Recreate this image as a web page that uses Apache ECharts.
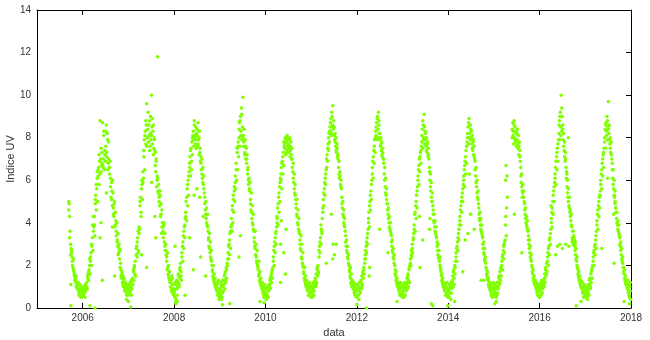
<!DOCTYPE html>
<html>
<head>
<meta charset="utf-8">
<script src="https://cdn.jsdelivr.net/npm/echarts@6/dist/echarts.min.js"></script>
<style>html,body{margin:0;padding:0;background:#fff}#c{width:650px;height:340px}</style>
</head>
<body>
<div id="c"></div>
<script>
// ---- tick labels ----
const xTicks = [2006, 2008, 2010, 2012, 2014, 2016, 2018];
const yMin = 0, yMax = 14, yStep = 2;

// ---- UV index, set A: 8 readings per month (Jan..Dec); 2005 starts in September ----
const uv2005 = [
 null,null,5.0,4.9,4.3,3.6,3.0,2.8,
 2.7,2.4,2.2,1.9,2.3,1.7,1.6,1.3,
 1.4,1.2,1.5,1.0,1.1,0.9,1.2,0.8,
 0.6,0.9,0.7,1.0,0.5,0.8,0.9,0.6];
const uv2006 = [
 0.8,0.6,1.0,0.7,0.9,1.1,0.8,1.0,
 1.2,0.9,1.4,1.6,1.3,1.8,2.0,1.6,
 2.2,2.6,2.0,2.9,3.3,2.7,3.6,3.8,
 4.3,3.4,4.9,5.3,4.6,5.6,6.1,5.0,
 6.2,6.6,5.8,6.9,8.8,7.0,6.4,6.7,
 6.8,8.7,6.6,7.0,8.3,6.5,7.2,6.9,
 7.6,8.6,7.1,8.2,7.9,6.8,7.0,6.6,
 6.3,6.9,6.1,5.2,5.9,5.5,4.8,5.4,
 4.7,4.3,5.0,3.8,4.5,4.1,3.6,4.0,
 3.2,2.9,3.5,2.6,3.0,2.3,2.7,2.1,
 1.8,1.4,1.6,1.2,1.5,1.0,1.3,1.1,
 0.9,1.2,0.8,1.0,0.7,1.1,0.9,0.6];
const uv2007 = [
 0.9,1.1,0.7,1.2,0.8,1.0,1.3,0.9,
 1.4,1.1,1.7,1.3,1.9,1.6,2.2,1.5,
 2.5,2.9,2.4,3.3,3.6,2.7,3.5,3.7,
 4.8,5.2,4.5,5.6,6.0,5.1,5.9,6.1,
 7.4,7.9,6.5,8.3,7.7,8.6,9.6,8.0,
 8.4,9.2,7.8,8.1,8.8,7.6,8.2,7.9,
 10.0,8.5,7.7,8.3,8.6,7.5,7.9,7.4,
 7.3,6.4,6.9,5.7,6.2,6.1,5.4,5.8,
 5.2,4.8,5.5,4.3,4.9,3.5,4.6,4.0,
 3.8,3.3,4.0,3.1,3.5,2.7,3.0,2.5,
 2.2,1.8,2.6,1.6,2.0,1.4,1.7,1.2,
 1.0,1.3,0.8,1.5,0.7,1.1,0.9,0.6];
const uv2008 = [
 0.8,0.5,1.1,0.3,0.9,1.3,0.6,1.0,
 1.2,1.5,1.0,1.8,1.4,2.1,1.7,1.3,
 2.4,2.9,2.2,3.4,2.8,3.8,3.3,4.2,
 4.5,5.0,4.1,5.6,4.8,6.0,5.3,6.4,
 6.6,7.1,6.2,7.5,6.9,7.8,7.2,8.1,
 8.3,7.6,8.8,8.0,7.7,8.5,7.9,8.2,
 8.1,7.6,8.7,7.9,7.2,8.3,7.5,6.9,
 7.1,6.5,7.0,6.1,6.6,5.8,6.2,5.4,
 5.2,4.6,5.0,4.2,4.7,3.9,4.4,3.6,
 3.3,2.9,3.5,2.6,3.1,2.3,2.7,2.0,
 1.8,1.5,2.0,1.3,1.6,1.1,1.4,1.2,
 1.0,0.8,1.2,0.6,0.9,1.3,0.7,0.5];
const uv2009 = [
 0.9,0.6,1.2,0.4,1.0,0.7,1.3,0.8,
 1.1,1.5,0.9,1.7,1.3,1.9,1.4,2.1,
 2.0,2.6,2.3,3.0,2.5,3.5,2.8,3.8,
 4.2,3.6,4.8,4.0,5.3,4.5,5.7,5.0,
 6.2,5.6,6.8,6.0,7.3,6.5,7.8,7.1,
 8.0,8.7,7.6,9.0,8.3,9.4,7.9,8.5,
 9.9,8.1,7.6,8.4,7.3,7.9,7.0,7.5,
 6.8,7.2,6.3,6.6,5.8,6.1,5.5,5.9,
 5.1,4.6,5.4,4.2,4.8,3.9,4.4,3.6,
 3.3,2.9,3.6,2.5,3.0,2.2,2.7,2.0,
 1.9,1.5,2.2,1.3,1.7,1.1,1.4,1.0,
 0.9,1.2,0.7,1.0,0.5,0.8,1.1,0.6];
const uv2010 = [
 0.7,0.4,0.9,0.6,1.0,0.5,0.8,1.1,
 1.0,1.3,0.9,1.5,1.2,1.7,1.4,1.9,
 2.2,2.7,2.0,3.1,2.6,3.5,3.0,3.8,
 4.2,4.7,3.9,5.2,4.5,5.7,5.0,6.1,
 6.0,6.6,5.6,6.9,6.3,7.3,6.7,7.6,
 7.5,8.0,7.2,7.8,7.4,8.1,7.6,7.9,
 7.7,7.3,8.0,7.1,7.6,7.8,7.2,7.5,
 7.0,6.4,6.8,5.9,6.3,5.4,5.8,5.1,
 4.9,4.4,5.1,4.0,4.6,3.7,4.2,3.5,
 3.2,2.8,3.4,2.4,3.0,2.1,2.6,1.9,
 1.7,1.4,1.9,1.2,1.5,1.0,1.3,0.9,
 0.8,1.1,0.6,0.9,1.2,0.7,1.0,0.5];
const uv2011 = [
 0.7,1.0,0.5,0.9,1.2,0.6,0.8,1.1,
 1.3,1.0,1.6,1.2,1.8,1.5,2.0,1.7,
 2.4,2.9,2.6,3.3,3.0,3.7,3.5,4.2,
 4.5,5.1,4.8,5.6,5.3,6.1,5.8,6.5,
 6.6,7.2,6.9,7.7,7.4,8.2,7.8,8.5,
 8.3,8.9,8.1,9.2,8.6,9.5,8.4,8.8,
 8.5,7.9,8.2,7.6,8.0,7.3,7.7,7.1,
 7.2,6.6,6.9,6.1,6.4,5.8,6.0,5.6,
 5.2,4.7,5.0,4.3,4.6,3.9,4.2,3.6,
 3.4,2.9,3.2,2.6,2.9,2.3,2.5,2.0,
 1.8,1.5,1.9,1.2,1.6,1.0,1.3,1.1,
 0.9,1.2,0.7,1.0,0.6,1.1,0.8,0.5];
const uv2012 = [
 0.8,1.1,0.6,1.0,0.4,1.2,0.9,0.7,
 1.2,0.9,1.5,1.1,1.7,1.4,1.9,1.6,
 2.1,2.5,2.3,2.9,2.6,3.3,3.0,3.7,
 4.0,4.5,3.8,5.0,4.6,5.5,5.1,6.0,
 6.3,6.9,6.1,7.4,6.8,7.9,7.3,8.3,
 8.1,8.7,7.9,9.0,8.4,9.2,8.6,8.2,
 8.2,7.6,8.0,7.4,7.8,7.1,7.5,7.0,
 7.0,6.3,6.6,5.7,6.1,5.3,5.6,4.9,
 4.9,4.4,4.7,4.0,4.3,3.7,4.0,3.5,
 3.4,2.9,3.2,2.6,2.8,2.3,2.5,2.0,
 1.8,1.5,1.7,1.2,1.4,1.0,1.2,0.9,
 0.8,1.1,0.6,0.9,1.2,0.7,1.0,0.5];
const uv2013 = [
 0.7,1.0,0.5,0.9,1.2,0.6,1.0,0.8,
 1.1,1.4,0.9,1.6,1.3,1.8,1.2,2.0,
 2.3,2.0,2.7,2.4,3.0,2.6,3.3,3.5,
 3.9,4.4,3.6,4.8,4.2,5.3,4.7,5.7,
 6.0,6.5,5.8,7.0,6.4,7.3,6.8,7.6,
 7.8,8.4,7.5,8.6,8.0,9.1,7.7,8.3,
 8.2,7.6,8.0,7.3,7.8,7.1,7.5,7.0,
 6.6,6.0,6.3,5.5,5.9,5.0,5.4,4.8,
 4.6,4.1,4.4,3.8,4.1,3.5,3.8,3.3,
 3.1,2.7,3.0,2.4,2.7,2.2,2.4,1.9,
 1.8,1.5,1.6,1.2,1.4,1.0,1.2,0.9,
 0.8,1.1,0.6,1.0,0.7,1.2,0.9,0.5];
const uv2014 = [
 0.8,0.5,1.1,0.7,1.0,0.4,1.2,0.9,
 1.2,1.5,1.0,1.8,1.4,2.0,1.6,2.2,
 2.4,2.8,2.2,3.1,2.7,3.5,3.2,3.9,
 4.1,4.6,3.9,5.0,4.5,5.4,5.0,5.8,
 6.0,6.5,5.7,6.9,6.3,7.4,6.8,7.8,
 8.0,8.5,7.7,8.9,8.2,8.6,7.9,8.4,
 8.3,7.7,8.1,7.4,7.9,7.2,7.6,7.0,
 6.9,6.2,6.6,5.7,6.0,5.2,5.5,4.9,
 4.7,4.2,4.5,3.9,4.2,3.6,3.9,3.4,
 3.3,2.8,3.1,2.5,2.8,2.2,2.4,1.9,
 1.8,1.5,1.7,1.3,1.4,1.0,1.2,0.9,
 0.8,1.1,0.6,1.0,0.5,0.9,1.2,0.7];
const uv2015 = [
 0.8,1.1,0.6,1.0,0.5,0.9,1.2,0.7,
 1.2,0.9,1.5,1.1,1.7,1.3,1.9,1.5,
 2.0,2.4,1.8,2.7,2.3,3.0,2.6,3.2,
 3.9,6.7,4.7,6.2,5.2,null,null,null,
 null,null,null,null,null,null,8.0,8.7,
 8.3,7.7,8.8,8.0,8.5,7.8,8.2,7.6,
 7.9,8.4,7.5,8.1,7.2,7.8,7.4,6.9,
 6.6,5.9,6.3,5.5,5.8,5.2,5.5,5.0,
 4.9,4.4,4.7,4.0,4.3,3.8,4.1,3.6,
 3.4,3.0,3.2,2.6,2.9,2.3,2.5,2.0,
 1.9,1.6,1.8,1.3,1.5,1.1,1.3,1.0,
 0.9,1.2,0.7,1.0,0.6,1.1,0.8,0.5];
const uv2016 = [
 0.8,1.1,0.6,1.0,1.3,0.7,0.9,1.2,
 1.3,1.0,1.6,1.2,1.8,1.5,2.1,1.7,
 2.2,2.6,2.0,2.9,2.5,3.3,3.0,3.7,
 4.0,4.5,3.8,5.0,4.4,5.5,5.0,5.9,
 6.1,6.6,5.8,7.1,6.5,7.5,6.9,7.9,
 8.2,8.8,7.9,9.2,8.5,10.0,8.3,9.0,
 8.6,7.9,8.2,7.4,7.8,6.9,7.3,6.6,
 6.4,5.7,6.0,5.2,5.6,4.8,5.2,4.5,
 4.6,4.1,4.4,3.8,3.1,3.6,3.0,3.4,
 3.2,2.9,3.0,2.5,2.8,2.2,2.4,1.9,
 1.8,1.5,1.7,1.3,1.5,1.1,1.3,1.0,
 0.9,1.2,0.7,1.0,0.5,0.8,1.1,0.6];
const uv2017 = [
 0.7,1.0,0.5,0.9,0.4,0.8,1.1,0.6,
 1.1,1.4,0.9,1.6,1.2,1.8,1.4,2.0,
 2.2,2.6,2.0,2.9,2.5,3.2,2.8,3.6,
 3.9,4.4,3.7,4.8,4.3,5.2,4.7,5.5,
 5.8,6.3,5.6,6.8,6.2,7.2,6.6,7.5,
 7.8,8.4,7.5,8.7,8.1,9.0,7.9,8.5,
 9.7,8.2,8.6,7.7,8.0,7.3,7.8,7.0,
 6.8,6.1,6.5,5.6,6.0,5.2,5.5,4.7,
 4.7,4.2,4.5,3.9,4.1,3.6,3.9,3.4,
 3.3,2.9,3.1,2.5,2.8,2.2,2.4,1.9,
 1.9,1.6,1.8,1.3,1.5,1.1,1.3,1.0,
 0.9,1.3,0.7,1.1,0.5,1.0,0.8,0.4];

// ---- UV index, set B: 4 further readings per month, between the set-A days ----
const uvB2005 = [
 null,4.6,3.3,2.5, 2.6,2.0,1.8,1.5, 1.3,1.0,0.9,1.1, 0.7,1.1,0.5,0.8];
const uvB2006 = [
 0.7,1.0,0.5,0.9, 1.0,1.5,1.7,2.3, 2.4,3.0,3.9,4.3, 3.9,5.1,5.8,6.4,
 6.5,7.2,6.3,7.5, 7.3,6.7,8.1,7.4, 8.3,7.3,6.5,7.8, 6.6,5.7,5.1,6.0,
 4.4,4.9,3.9,3.4, 3.1,2.5,2.8,1.9, 1.5,1.7,1.1,1.4, 0.8,1.0,0.6,0.9];
const uvB2007 = [
 1.0,0.8,1.2,0.6, 1.3,1.8,2.0,1.5, 2.8,3.1,2.6,3.8, 5.0,4.3,5.8,6.4,
 7.1,8.1,8.8,7.6, 8.0,8.6,7.4,9.0, 8.1,8.9,7.2,8.0, 6.7,7.0,6.0,5.5,
 5.0,5.3,4.4,3.8, 3.6,3.9,2.9,2.7, 2.4,1.9,1.5,1.3, 1.2,0.9,1.4,0.8];
const uvB2008 = [
 0.7,1.2,0.4,0.9, 1.6,1.1,1.9,1.5, 2.6,3.1,3.6,3.9, 4.3,5.2,5.8,6.2,
 6.8,7.4,6.5,8.0, 7.9,8.6,8.1,7.5, 8.4,7.7,8.0,7.3, 6.8,6.3,5.9,5.6,
 4.9,4.4,4.0,3.8, 3.2,2.8,2.4,2.2, 1.7,1.4,1.2,1.0, 0.9,1.1,0.7,0.4];
const uvB2009 = [
 0.8,1.1,0.5,1.0, 1.3,1.6,1.2,1.8, 2.3,2.9,3.2,3.6, 3.9,4.6,5.1,5.5,
 5.9,6.5,7.5,7.6, 8.4,8.8,8.1,9.1, 8.0,7.8,7.2,7.6, 7.0,6.5,6.0,5.6,
 4.9,4.5,4.0,3.7, 3.1,2.8,2.4,2.1, 1.8,1.6,1.2,1.1, 1.0,0.8,0.6,0.9];
const uvB2010 = [
 0.6,0.9,0.5,0.8, 1.1,1.4,1.6,1.8, 2.4,2.9,3.3,3.6, 4.0,4.9,5.4,5.9,
 6.3,6.8,7.1,7.8, 7.7,7.9,7.3,8.0, 7.5,7.9,7.4,7.0, 6.6,6.1,5.6,5.3,
 4.7,4.3,3.9,3.6, 3.0,2.7,2.3,2.0, 1.6,1.3,1.1,1.0, 0.9,0.6,1.0,0.7];
const uvB2011 = [
 0.8,1.1,0.6,1.0, 1.4,1.1,1.9,1.6, 2.7,3.1,3.9,3.6, 4.7,5.4,5.9,6.3,
 7.0,7.5,8.0,8.3, 8.7,8.2,9.0,8.5, 8.1,7.8,7.4,7.5, 7.0,6.3,6.2,5.7,
 4.9,4.4,4.0,3.8, 3.1,2.7,2.4,2.1, 1.7,1.4,1.1,1.2, 1.0,0.8,0.6,0.9];
const uvB2012 = [
 0.9,0.6,1.0,0.8, 1.3,1.0,1.6,1.8, 2.3,2.7,3.1,3.5, 4.2,4.8,5.3,5.8,
 6.6,7.1,7.6,8.0, 8.5,8.9,8.0,8.8, 7.9,7.7,7.2,7.3, 6.8,6.0,5.4,5.1,
 4.6,4.2,3.8,3.6, 3.1,2.7,2.4,2.1, 1.6,1.3,1.1,1.0, 0.9,0.7,1.0,0.6];
const uvB2013 = [
 0.8,1.1,0.6,0.9, 1.2,1.5,1.0,1.9, 2.1,2.5,2.8,3.2, 3.7,4.5,5.0,5.5,
 6.2,6.7,7.1,7.4, 8.1,8.8,7.9,8.5, 7.9,7.4,7.7,7.2, 6.4,5.7,5.2,5.0,
 4.4,4.0,3.6,3.4, 2.9,2.5,2.3,2.0, 1.7,1.3,1.1,1.0, 0.9,1.0,0.7,0.6];
const uvB2014 = [
 0.6,0.9,1.0,0.7, 1.3,1.7,1.1,1.9, 2.6,2.9,3.3,3.7, 4.3,4.8,5.2,5.6,
 6.2,6.7,7.1,7.6, 8.2,8.7,8.0,8.6, 8.0,7.5,7.8,7.1, 6.5,5.9,5.4,5.1,
 4.4,4.1,3.7,3.5, 3.0,2.6,2.3,2.1, 1.6,1.4,1.1,1.0, 0.9,0.7,1.0,0.6];
const uvB2015 = [
 0.9,0.7,1.0,0.6, 1.0,1.4,1.2,1.8, 2.2,2.5,2.9,3.1, 6.0,null,null,null,
 null,null,null,8.4, 8.1,8.6,7.9,8.3, 8.2,7.7,7.6,7.1, 6.2,5.7,5.4,5.2,
 4.6,4.2,3.9,3.7, 3.2,2.8,2.4,2.2, 1.7,1.4,1.2,1.1, 1.0,0.8,0.6,0.9];
const uvB2016 = [
 0.9,1.2,0.7,1.0, 1.1,1.4,1.9,1.6, 2.4,2.8,3.2,3.5, 4.2,4.7,5.3,5.7,
 6.3,6.9,7.3,7.7, 8.6,9.0,8.1,9.4, 8.4,7.6,7.1,7.0, 6.1,5.4,5.0,4.7,
 4.3,3.9,3.3,3.6, 3.0,2.7,2.3,2.0, 1.6,1.4,1.2,1.0, 1.0,0.8,0.9,0.7];
const uvB2017 = [
 0.8,0.6,1.0,0.7, 1.3,1.0,1.7,1.9, 2.4,2.7,3.0,3.4, 4.1,4.6,5.0,5.3,
 6.0,6.5,7.0,7.3, 8.0,8.6,8.3,8.8, 8.4,7.9,7.5,7.2, 6.5,5.8,5.3,5.0,
 4.5,4.0,3.7,3.5, 3.0,2.7,2.3,2.1, 1.7,1.4,1.2,1.1, 1.1,0.8,0.6,1.2];

// ---- isolated readings [decimal year, UV index] ----
const outliers = [
 [2005.74,0.1],[2005.74,1.1],
 [2006.16,0.1],[2006.27,0.0],[2006.43,1.3],[2006.38,3.3],[2006.40,4.0],[2006.52,5.4],[2006.65,3.8],[2006.70,1.5],
 [2006.96,0.4],[2007.00,0.3],[2007.05,0.05],
 [2007.29,2.5],[2007.40,1.9],[2007.51,5.9],[2007.58,4.3],[2007.60,3.3],[2007.64,11.8],
 [2008.02,2.9],[2008.04,0.2],[2008.07,0.3],[2008.24,0.6],[2008.34,3.3],[2008.42,1.8],[2008.44,5.3],[2008.50,5.6],[2008.56,5.2],[2008.58,2.4],[2008.64,4.3],[2008.69,1.5],
 [2009.06,0.15],[2009.22,0.2],[2009.42,2.4],[2009.45,3.4],[2009.88,0.3],[2009.97,0.25],
 [2010.25,4.3],[2010.33,1.2],[2010.33,3.0],[2010.35,4.1],[2010.40,2.6],[2010.44,1.6],[2010.45,3.7],
 [2011.33,2.1],[2011.44,4.4],[2011.47,2.3],[2011.48,3.0],[2011.51,2.5],[2011.55,3.0],
 [2012.00,0.15],[2012.21,0.0],[2012.27,1.5],[2012.28,1.9],[2012.50,3.7],[2012.68,2.6],[2012.88,0.3],
 [2013.37,4.3],[2013.38,1.9],[2013.44,3.2],[2013.59,3.7],[2013.60,4.2],[2013.63,0.2],[2013.66,0.1],
 [2013.99,0.1],[2014.14,0.3],[2014.32,1.7],[2014.37,3.2],[2014.43,3.5],[2014.46,6.3],[2014.49,4.4],[2014.57,3.7],[2014.72,1.3],[2014.78,1.3],
 [2015.02,0.2],[2015.05,0.3],[2015.26,4.3],[2015.27,3.4],[2015.45,4.4],[2015.61,2.6],[2015.62,5.2],
 [2016.25,4.8],[2016.35,2.5],[2016.39,2.9],[2016.44,3.0],[2016.50,2.8],[2016.57,3.0],[2016.60,6.3],[2016.63,8.0],[2016.64,2.9],[2016.72,3.2],[2016.75,3.3],[2016.78,3.1],[2016.80,0.1],[2016.91,0.3],
 [2017.36,2.8],[2017.49,6.1],[2017.62,4.4],[2017.63,2.1],[2017.65,4.9],[2017.85,0.3],[2017.97,0.2]
];

const seasons = [
 {year:2005, startMonth:8, a:uv2005, b:uvB2005},
 {year:2006, startMonth:0, a:uv2006, b:uvB2006},
 {year:2007, startMonth:0, a:uv2007, b:uvB2007},
 {year:2008, startMonth:0, a:uv2008, b:uvB2008},
 {year:2009, startMonth:0, a:uv2009, b:uvB2009},
 {year:2010, startMonth:0, a:uv2010, b:uvB2010},
 {year:2011, startMonth:0, a:uv2011, b:uvB2011},
 {year:2012, startMonth:0, a:uv2012, b:uvB2012},
 {year:2013, startMonth:0, a:uv2013, b:uvB2013},
 {year:2014, startMonth:0, a:uv2014, b:uvB2014},
 {year:2015, startMonth:0, a:uv2015, b:uvB2015},
 {year:2016, startMonth:0, a:uv2016, b:uvB2016},
 {year:2017, startMonth:0, a:uv2017, b:uvB2017}
];
const points = [];
function addSet(year, startMonth, values, perMonth, offset) {
  values.forEach((v, k) => {
    if (v === null) return;
    const slot = startMonth * perMonth + k;
    points.push([year + (slot + offset) / (12 * perMonth), v]);
  });
}
seasons.forEach(s => {
  addSet(s.year, s.startMonth, s.a, 8, 0.5);
  addSet(s.year, s.startMonth, s.b, 4, 0.25);
});
outliers.forEach(p => points.push(p));

const font = 'Liberation Sans, Arial, sans-serif';
const textCol = '#333';
const frame = {show: true, onZero: false, lineStyle: {color: '#000', width: 1}};

const chart = echarts.init(document.getElementById('c'), null, {renderer: 'canvas'});
chart.setOption({
  animation: false,
  backgroundColor: '#fff',
  grid: {left: 37, right: 19, top: 10, bottom: 32, containLabel: false, outerBoundsMode: 'none'},
  xAxis: [{
    type: 'value', min: 2005, max: 2018, position: 'bottom',
    axisLine: frame,
    axisTick: {show: true, inside: true, length: 5, customValues: xTicks, lineStyle: {color: '#000'}},
    axisLabel: {customValues: xTicks, formatter: v => String(v), color: textCol, fontSize: 10, fontFamily: font, margin: 5},
    splitLine: {show: false},
    name: 'data', nameLocation: 'middle', nameGap: 19, nameMoveOverlap: false,
    nameTextStyle: {color: textCol, fontSize: 11, fontFamily: font}
  }, {
    type: 'value', min: 2005, max: 2018, position: 'top',
    axisLine: frame,
    axisTick: {show: true, inside: true, length: 5, customValues: xTicks, lineStyle: {color: '#000'}},
    axisLabel: {show: false},
    splitLine: {show: false}
  }],
  yAxis: [{
    type: 'value', min: yMin, max: yMax, interval: yStep, position: 'left',
    axisLine: frame,
    axisTick: {show: false},
    axisLabel: {color: textCol, fontSize: 10, fontFamily: font, margin: 6},
    splitLine: {show: false},
    name: 'Indice UV', nameLocation: 'middle', nameGap: 21, nameRotate: 90, nameMoveOverlap: false,
    nameTextStyle: {color: textCol, fontSize: 11, fontFamily: font}
  }, {
    type: 'value', min: yMin, max: yMax, interval: yStep, position: 'right',
    axisLine: frame,
    axisTick: {show: true, inside: true, length: 5, lineStyle: {color: '#000'}},
    axisLabel: {show: false},
    splitLine: {show: false}
  }],
  series: [{
    type: 'scatter',
    xAxisIndex: 0, yAxisIndex: 0,
    data: points,
    symbol: 'circle',
    symbolSize: 3.5,
    itemStyle: {color: '#7fff00', opacity: 1},
    large: false,
    silent: true
  }]
});
</script>
</body>
</html>
